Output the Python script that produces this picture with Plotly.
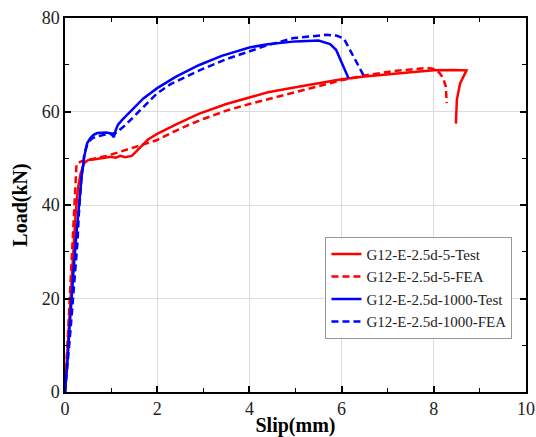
import plotly.graph_objects as go

# ---- data ----
red_test_x = [0, 0.06, 0.12, 0.18, 0.23, 0.28, 0.34, 0.42, 0.5, 0.65, 0.8, 1.0, 1.1, 1.2, 1.3, 1.45,
              1.6, 1.8, 2.0, 2.4, 2.9, 3.5, 4.0, 4.4, 5.0, 5.5, 6.0, 6.5, 7.0, 7.5, 8.0, 8.4, 8.71,
              8.65, 8.57, 8.5, 8.48]
red_test_y = [0, 10, 20, 30, 38, 43.5, 46.8, 49.0, 49.6, 49.8, 50.0, 50.3, 50.1, 50.5, 50.2, 50.5,
              52.0, 54.0, 55.2, 57.2, 59.5, 61.6, 63.0, 64.1, 65.2, 66.1, 66.9, 67.5, 68.0, 68.4, 68.8,
              68.9, 68.8, 67.5, 66.0, 62.5, 57.4]

red_fea_x = [0, 0.03, 0.08, 0.13, 0.18, 0.22, 0.25, 0.35, 0.6, 0.9, 1.2, 1.5, 1.8, 2.0, 2.3, 2.65,
             3.0, 3.5, 4.0, 4.4, 5.0, 5.5, 6.0, 6.5, 7.1, 7.5, 7.85, 8.0, 8.12, 8.2, 8.26, 8.28]
red_fea_y = [0, 6, 14, 23, 33, 42, 48.8, 49.3, 49.9, 50.5, 51.4, 52.4, 53.3, 53.9, 55.4, 57.0,
             58.4, 60.2, 61.6, 62.6, 64.2, 65.5, 66.7, 67.7, 68.6, 69.0, 69.3, 69.1, 68.3, 67.2, 65.4, 61.8]

blue_test_x = [0, 0.05, 0.1, 0.14, 0.2, 0.25, 0.3, 0.36, 0.42, 0.48, 0.55, 0.62, 0.7, 0.8, 0.9, 0.99,
               1.04, 1.06, 1.1, 1.15, 1.25, 1.35, 1.5, 1.7, 2.0, 2.4, 2.9, 3.4, 4.0, 4.4, 5.0, 5.5,
               5.75, 5.88, 5.97, 6.07, 6.15]
blue_test_y = [0, 6, 14, 20, 28, 34, 40, 46, 50.5, 53.2, 54.3, 55.0, 55.4, 55.5, 55.5, 55.3,
               54.8, 54.5, 56.0, 57.2, 58.3, 59.3, 60.8, 62.8, 65.0, 67.4, 69.9, 71.9, 73.7, 74.4, 75.0,
               75.2, 74.4, 73.2, 71.2, 69.0, 67.1]

blue_fea_x = [0, 0.05, 0.1, 0.15, 0.2, 0.27, 0.3, 0.35, 0.42, 0.5, 0.6, 0.7, 0.85, 1.0, 1.1, 1.3,
              1.6, 2.0, 2.3, 2.65, 2.94, 3.5, 4.0, 4.4, 4.96, 5.3, 5.68, 5.9, 6.05, 6.18, 6.3, 6.4, 6.51]
blue_fea_y = [0, 5, 11, 17, 23, 32, 38, 45, 51, 53.5, 54.3, 54.7, 55.0, 55.2, 55.4, 57.0,
              60.0, 63.9, 65.9, 67.6, 68.9, 71.2, 72.9, 74.2, 75.7, 76.1, 76.4, 76.2, 75.6, 73.2,
              71.0, 68.9, 67.1]

names = ["G12-E-2.5d-5-Test", "G12-E-2.5d-5-FEA", "G12-E-2.5d-1000-Test", "G12-E-2.5d-1000-FEA"]
x_ticks = [0, 2, 4, 6, 8, 10]
y_ticks = [0, 20, 40, 60, 80]

series = [
    (red_test_x, red_test_y, "#ff0000", "solid"),
    (red_fea_x, red_fea_y, "#ff0000", "7px,4px"),
    (blue_test_x, blue_test_y, "#0000ff", "solid"),
    (blue_fea_x, blue_fea_y, "#0000ff", "7px,4px"),
]

fig = go.Figure()
for (xs, ys, c, d), n in zip(series, names):
    fig.add_trace(go.Scatter(x=xs, y=ys, mode="lines", name=n,
                             line=dict(color=c, width=2.5, dash=d)))

font_family = "Liberation Serif"
axis_common = dict(
    showline=True, linecolor="black", linewidth=1.5, mirror="ticks",
    ticks="inside", ticklen=6, tickwidth=1.5, tickcolor="black",
    showgrid=True, gridcolor="#dcdcdc", gridwidth=1, zeroline=False,
    tickfont=dict(family=font_family, size=18, color="#222"),
    minor=dict(ticks="inside", ticklen=4, tickwidth=1.2, tickcolor="black", showgrid=False),
    automargin=False,
)

fig.update_layout(
    width=536, height=437,
    margin=dict(l=65, r=10, t=18, b=45),
    paper_bgcolor="white", plot_bgcolor="white",
    font=dict(family=font_family, color="black"),
    xaxis=dict(range=[0, 10], tickvals=x_ticks, title=dict(text="<b>Slip(mm)</b>", font=dict(size=20), standoff=3),
               **axis_common),
    yaxis=dict(range=[0, 80], tickvals=y_ticks, title=dict(text="<b>Load(kN)</b>", font=dict(size=20), standoff=9),
               **axis_common),
    legend=dict(x=0.565, y=0.415, xanchor="left", yanchor="top",
                bgcolor="white", bordercolor="#999", borderwidth=1,
                font=dict(family=font_family, size=15, color="#222"),
                tracegroupgap=0, itemwidth=30),
    showlegend=True,
)
fig.update_xaxes(minor=dict(dtick=1))
fig.update_yaxes(minor=dict(dtick=10))

fig.write_html("out.html")
